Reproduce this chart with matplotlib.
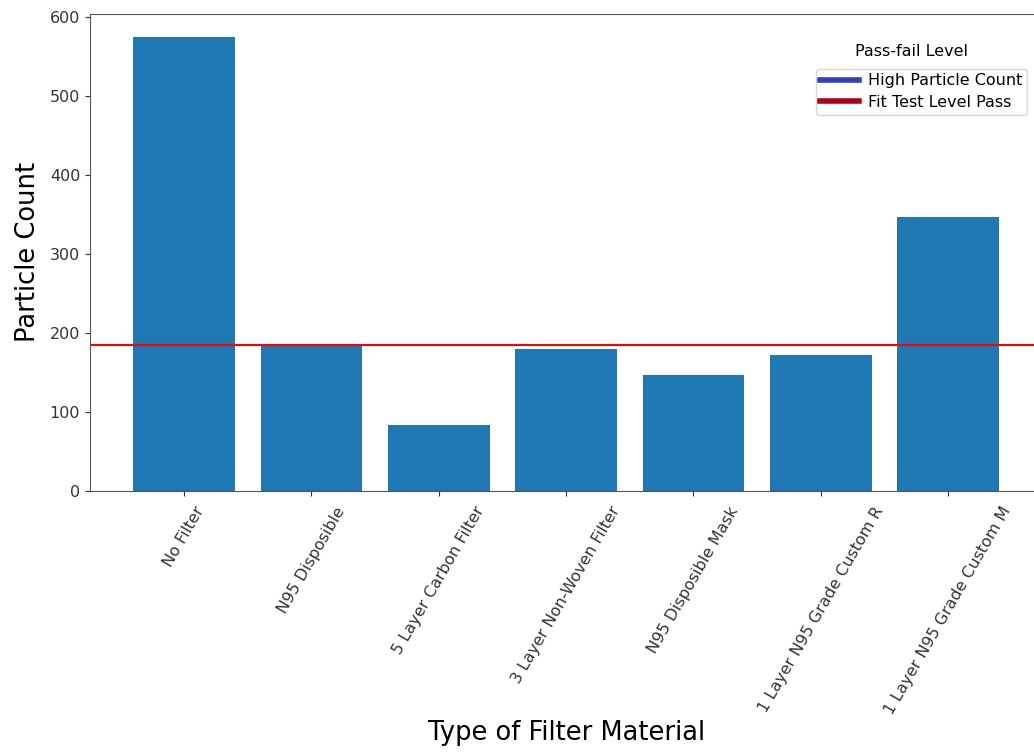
import matplotlib
matplotlib.use("Agg")
import matplotlib.pyplot as plt
from matplotlib.lines import Line2D

materials = ["No Filter", "N95 Disposible", "5 Layer Carbon Filter",
             "3 Layer Non-Woven Filter", "N95 Disposible Mask",
             "1 Layer N95 Grade Custom R", "1 Layer N95 Grade Custom M"]
counts = [575, 184, 84, 180, 147, 172, 347]
pass_level = 185

legend_labels = ["High Particle Count", "Fit Test Level Pass"]
legend_colors = ["#2f3fc4", "#b0001e"]

fig = plt.figure(figsize=(10.34, 7.55), dpi=100)
ax = fig.add_axes([0.087, 0.3497, 0.921, 0.632])

ax.bar(materials, counts, color="#1f77b4")
ax.axhline(pass_level, color="red", linewidth=1.5)

ax.set_ylabel("Particle Count", fontsize=18.5, labelpad=6)
ax.set_xlabel("Type of Filter Material", fontsize=18.5, labelpad=2)
ax.tick_params(axis="both", labelsize=11.5, colors="#333333")
ax.tick_params(axis="x", pad=6)
for s in ax.spines.values():
    s.set_color("#555555")
plt.setp(ax.get_xticklabels(), rotation=60)

handles = [Line2D([0], [0], color=c, linewidth=4) for c in legend_colors]
ax.legend(handles, legend_labels, loc="upper left", bbox_to_anchor=(0.762, 0.885),
          fontsize=11.5, handlelength=2.4, handletextpad=0.6, borderpad=0.3,
          borderaxespad=0, labelspacing=0.4)
ax.text(0.863, 0.92, "Pass-fail Level", transform=ax.transAxes,
        ha="center", va="center", fontsize=11.5)

fig.savefig("out.png", dpi=100)
